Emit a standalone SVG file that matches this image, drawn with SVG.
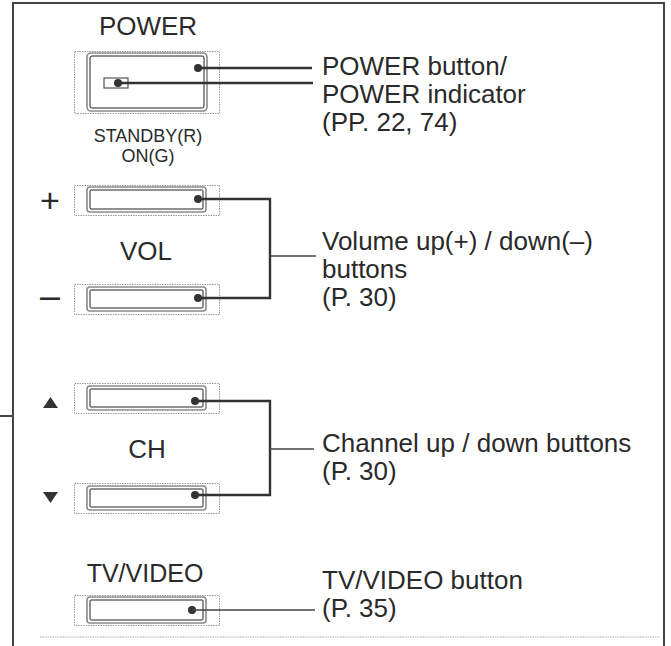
<svg xmlns="http://www.w3.org/2000/svg" width="671" height="646" viewBox="0 0 671 646">
<style>
.t{font-family:"Liberation Sans",Arial,sans-serif;fill:#2a2a2a;font-size:26px}
.s{font-size:18px}
.c{text-anchor:middle}
.outer{fill:none;stroke:#9a9a9a;stroke-width:1;stroke-dasharray:1.5 1}
.btn{fill:#fff;stroke:#8a8a8a;stroke-width:1.6}
.btnin{fill:none;stroke:#222;stroke-width:1}
.dot{fill:#333}
.ln{fill:none;stroke:#333;stroke-width:2.4}
.st{fill:none;stroke:#444;stroke-width:1.6}
.fr{fill:none;stroke:#444;stroke-width:2}
</style>
<rect width="671" height="646" fill="#fff"/>
<g id="frame">
<polyline class="fr" points="13,646 13,3 664,3 664,646"/>
<line class="fr" x1="0" y1="416" x2="13" y2="416"/>
<line x1="40" y1="637" x2="660" y2="637" stroke="#aaa" stroke-width="1" stroke-dasharray="1.5 1"/>
</g>
<g id="power">
<text class="t c" x="148" y="35">POWER</text>
<rect class="outer" x="74.5" y="51.5" width="145" height="62"/>
<rect class="btn" x="87" y="53" width="120" height="58" rx="4"/>
<rect class="btnin" x="90" y="56" width="114" height="52" rx="2"/>
<rect x="104" y="78" width="24" height="10" fill="#fff" stroke="#333" stroke-width="1"/>
<circle class="dot" cx="198" cy="68" r="4"/>
<circle class="dot" cx="118" cy="83" r="4"/>
<text class="t s c" x="148" y="142">STANDBY(R)</text>
<text class="t s c" x="148" y="162">ON(G)</text>
</g>
<g id="power-label">
<text class="t" x="322" y="75">POWER button/</text>
<text class="t" x="322" y="103">POWER indicator</text>
<text class="t" x="322" y="131">(PP. 22, 74)</text>
</g>
<g id="vol-up">
<text class="t c" x="50" y="212" style="font-size:34px">+</text>
<rect class="outer" x="74.5" y="185.5" width="145" height="30"/>
<rect class="btn" x="87" y="187" width="119" height="25" rx="3"/>
<rect class="btnin" x="90" y="190" width="113" height="19" rx="1"/>
<circle class="dot" cx="198" cy="199" r="4"/>
</g>
<text id="vol-text" class="t c" x="146" y="260">VOL</text>
<g id="vol-down">
<text class="t c" x="50" y="308" style="font-size:36px">–</text>
<rect class="outer" x="74.5" y="284.5" width="145" height="30"/>
<rect class="btn" x="87" y="287" width="119" height="24" rx="3"/>
<rect class="btnin" x="90" y="290" width="113" height="18" rx="1"/>
<circle class="dot" cx="198" cy="298" r="4"/>
</g>
<g id="vol-label">
<text class="t" x="322" y="250">Volume up(+) / down(–)</text>
<text class="t" x="322" y="278">buttons</text>
<text class="t" x="322" y="306">(P. 30)</text>
</g>
<g id="ch-up">
<polygon points="50.5,397 43,408 58,408" fill="#333"/>
<rect class="outer" x="74.5" y="383.5" width="145" height="30"/>
<rect class="btn" x="87" y="386" width="119" height="24" rx="3"/>
<rect class="btnin" x="90" y="389" width="113" height="18" rx="1"/>
<circle class="dot" cx="195" cy="401" r="4"/>
</g>
<text id="ch-text" class="t c" x="147" y="458">CH</text>
<g id="ch-down">
<polygon points="43,492 58,492 50.5,503" fill="#333"/>
<rect class="outer" x="74.5" y="483.5" width="145" height="30"/>
<rect class="btn" x="87" y="486" width="119" height="24" rx="3"/>
<rect class="btnin" x="90" y="489" width="113" height="18" rx="1"/>
<circle class="dot" cx="195" cy="495" r="4"/>
</g>
<g id="ch-label">
<text class="t" x="322" y="452">Channel up / down buttons</text>
<text class="t" x="322" y="480">(P. 30)</text>
</g>
<g id="tv">
<text class="t c" x="145" y="582" style="font-size:25px">TV/VIDEO</text>
<rect class="outer" x="74.5" y="595.5" width="145" height="30"/>
<rect class="btn" x="87" y="597" width="119" height="26" rx="3"/>
<rect class="btnin" x="90" y="600" width="113" height="20" rx="1"/>
<circle class="dot" cx="192" cy="610" r="4"/>
</g>
<g id="tv-label">
<text class="t" x="322" y="589">TV/VIDEO button</text>
<text class="t" x="322" y="617">(P. 35)</text>
</g>
<g id="connectors">
<line class="ln" x1="198" y1="68" x2="312" y2="68"/>
<line class="ln" x1="118" y1="83" x2="313" y2="83"/>
<polyline class="ln" points="198,199 270,199 270,298 198,298"/>
<line class="st" x1="270" y1="256" x2="316" y2="256"/>
<polyline class="ln" points="195,401 270,401 270,495 195,495"/>
<line class="st" x1="270" y1="449" x2="314" y2="449"/>
<line class="st" x1="192" y1="610" x2="315" y2="610"/>
</g>
</svg>
